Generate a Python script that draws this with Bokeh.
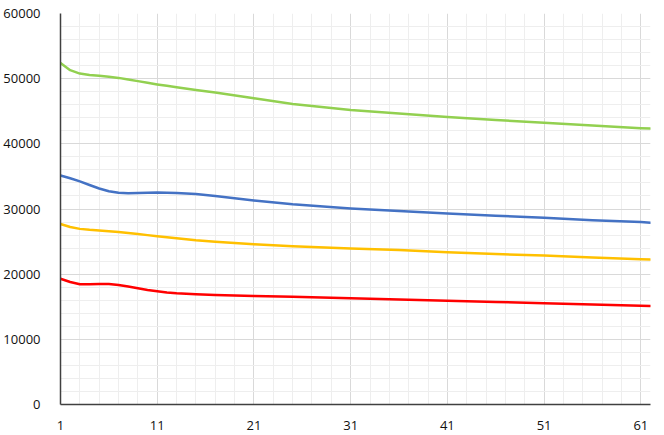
from bokeh.plotting import figure
from bokeh.models import Range1d, FixedTicker, SingleIntervalTicker
from bokeh.embed import file_html
from bokeh.resources import INLINE

x_vals = [1, 2, 3, 4, 5, 6, 7, 8, 9, 10, 11, 12, 13, 15, 17, 21, 25, 31, 36, 41, 46, 51, 56, 61, 62]
green = [52400, 51300, 50780, 50580, 50430, 50290, 50120, 49880, 49620, 49370, 49120, 48900, 48680,
         48250, 47860, 46980, 46120, 45190, 44660, 44120, 43660, 43250, 42800, 42400, 42340]
blue = [35150, 34720, 34230, 33680, 33150, 32720, 32480, 32410, 32440, 32500, 32530, 32500, 32450,
        32300, 31980, 31300, 30730, 30080, 29700, 29310, 28960, 28660, 28290, 27990, 27900]
yellow = [27700, 27230, 26950, 26800, 26690, 26580, 26460, 26320, 26150, 25990, 25820, 25660, 25500,
          25200, 24980, 24580, 24300, 23920, 23710, 23360, 23100, 22850, 22550, 22290, 22240]
red = [19300, 18790, 18450, 18440, 18480, 18480, 18350, 18100, 17830, 17580, 17380, 17200, 17080,
       16920, 16820, 16660, 16540, 16290, 16110, 15930, 15740, 15530, 15350, 15160, 15130]

x_ticks = [1, 11, 21, 31, 41, 51, 61]
x_minor = [3, 5, 7, 9, 13, 15, 17, 19, 23, 25, 27, 29, 33, 35, 37, 39, 43, 45, 47, 49,
           53, 55, 57, 59]

series = [(green, "#92D050"), (blue, "#4472C4"), (yellow, "#FFC000"), (red, "#FF0000")]

p = figure(width=664, height=432, output_backend="svg", toolbar_location=None,
           x_range=Range1d(1, 62), y_range=Range1d(0, 60000))
p.min_border_left = 60
p.min_border_right = 14
p.min_border_top = 13
p.min_border_bottom = 27
p.outline_line_color = None
p.background_fill_color = "white"
p.border_fill_color = "white"

p.xaxis.ticker = FixedTicker(ticks=x_ticks, minor_ticks=x_minor)
p.yaxis.ticker = SingleIntervalTicker(interval=10000, num_minor_ticks=5)

for ax in (p.xaxis, p.yaxis):
    ax.axis_line_color = "#404040"
    ax.axis_line_width = 1.5
    ax.major_tick_line_color = None
    ax.minor_tick_line_color = None
    ax.major_label_text_font = "Open Sans"
    ax.major_label_text_font_size = "13px"
    ax.major_label_text_color = "#111111"
p.yaxis.major_label_standoff = 14
p.xaxis.major_label_standoff = 10

for g in (p.xgrid, p.ygrid):
    g.grid_line_color = "#d9d9d9"
    g.grid_line_width = 1
    g.minor_grid_line_color = "#eeeeee"
    g.minor_grid_line_width = 1

for ys, c in series:
    p.line(x_vals, ys, line_color=c, line_width=2.5, line_join="round", line_cap="round")

open("out.html", "w").write(file_html(p, INLINE))
